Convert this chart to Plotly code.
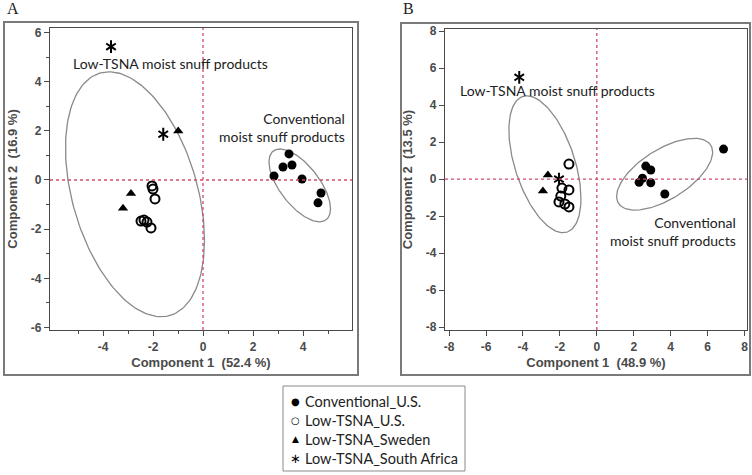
import numpy as np
import plotly.graph_objects as go

# ---------------- data ----------------
categories = ["Conventional_U.S.", "Low-TSNA_U.S.", "Low-TSNA_Sweden", "Low-TSNA_South Africa"]
legend_glyphs = ["●", "○", "▲", "∗"]

# Panel A
A_conv_x = [3.44, 3.20, 3.56, 2.84, 3.96, 4.72, 4.60]
A_conv_y = [1.06, 0.53, 0.61, 0.16, 0.04, -0.53, -0.93]
A_lowus_x = [-2.04, -2.00, -1.92, -2.48, -2.36, -2.24, -2.08]
A_lowus_y = [-0.24, -0.37, -0.77, -1.67, -1.63, -1.71, -1.95]
A_swe_x = [-0.99, -2.88, -3.20]
A_swe_y = [1.99, -0.55, -1.15]
A_sa_x = [-3.68, -1.59]
A_sa_y = [5.42, 1.86]

# Panel B
B_conv_x = [2.65, 2.92, 2.29, 2.47, 2.92, 3.68, 6.86]
B_conv_y = [0.70, 0.49, -0.18, 0.04, -0.20, -0.81, 1.62]
B_lowus_x = [-1.51, -1.89, -1.51, -1.95, -2.05, -1.73, -1.51]
B_lowus_y = [0.81, -0.49, -0.59, -0.92, -1.24, -1.35, -1.51]
B_swe_x = [-2.65, -2.92]
B_swe_y = [0.22, -0.65]
B_sa_x = [-4.20, -2.05]
B_sa_y = [5.50, 0.00]

# ellipses: centre x, centre y, x half-extent, y half-extent, phase (deg)
A_ell_low = [-2.72, -0.58, 2.78, 4.98, 112]
A_ell_conv = [3.87, -0.22, 1.23, 1.48, 130]
B_ell_low = [-2.81, 0.80, 1.95, 3.70, 120]
B_ell_conv = [3.67, 0.26, 2.60, 1.94, 52]

A_xticks = [-4, -2, 0, 2, 4]
A_yticks = [-6, -4, -2, 0, 2, 4, 6]
A_minor = [-5, -3, -1, 1, 3, 5]
B_ticks = [-8, -6, -4, -2, 0, 2, 4, 6, 8]

A_xlabel = "Component 1  (52.4 %)"
A_ylabel = "Component 2  (16.9 %)"
B_xlabel = "Component 1  (48.9 %)"
B_ylabel = "Component 2  (13.5 %)"
group_low = "Low-TSNA moist snuff products"
group_conv = "Conventional<br>moist snuff products"

# ---------------- figure ----------------
fig = go.Figure()
TXT = "#222222"
AX = "#4a4a4a"
H = 475.0
W = 752.0


def ellipse(p, xa, ya):
    cx, cy, rx, ry, d = p
    t = np.linspace(0, 2 * np.pi, 200)
    fig.add_trace(go.Scatter(x=cx + rx * np.cos(t), y=cy + ry * np.cos(t - np.radians(d)),
                             mode="lines", line=dict(color="#8a8a8a", width=1.3),
                             xaxis=xa, yaxis=ya, showlegend=False, hoverinfo="skip"))


ellipse(A_ell_low, "x", "y")
ellipse(A_ell_conv, "x", "y")
ellipse(B_ell_low, "x2", "y2")
ellipse(B_ell_conv, "x2", "y2")

styles = [
    [dict(symbol="circle", size=9, color="black", line=dict(width=0))],
    [dict(symbol="circle-open", size=9, color="black", line=dict(width=2, color="black"))],
    [dict(symbol="triangle-up", size=9, color="black", line=dict(width=0))],
    # six-armed asterisk = y-up + y-down strokes
    [dict(symbol="y-up-open", size=8, color="black", line=dict(width=2, color="black")),
     dict(symbol="y-down-open", size=8, color="black", line=dict(width=2, color="black"))],
]
A_sets = [(A_conv_x, A_conv_y), (A_lowus_x, A_lowus_y), (A_swe_x, A_swe_y), (A_sa_x, A_sa_y)]
B_sets = [(B_conv_x, B_conv_y), (B_lowus_x, B_lowus_y), (B_swe_x, B_swe_y), (B_sa_x, B_sa_y)]

for sets, xa, ya in [(A_sets, "x", "y"), (B_sets, "x2", "y2")]:
    for i, name in enumerate(categories):
        for st in styles[i]:
            fig.add_trace(go.Scatter(x=sets[i][0], y=sets[i][1], mode="markers", name=name,
                                     marker=st, xaxis=xa, yaxis=ya, showlegend=False))


def lbl(v):
    return [str(t) for t in v]


axis_common = dict(showgrid=False, zeroline=False, showline=True, linecolor=AX, linewidth=1.2,
                   mirror=True, ticks="outside", ticklen=5, tickcolor=AX, tickwidth=1.2,
                   automargin=False,
                   tickfont=dict(family="Liberation Sans", size=12, color=AX, weight="bold"),
                   title_font=dict(family="Liberation Sans", size=13, color=AX, weight="bold"))

fig.update_layout(
    width=752, height=475, margin=dict(l=0, r=0, t=0, b=0, autoexpand=False),
    paper_bgcolor="white", plot_bgcolor="white", showlegend=False,
    xaxis=dict(domain=[50 / W, 352 / W], range=[-6.12, 5.96], tickvals=A_xticks, ticktext=lbl(A_xticks),
               minor=dict(tickvals=A_minor, ticklen=3, tickcolor=AX, ticks="outside"),
               title=dict(text=A_xlabel, standoff=5), anchor="y", **axis_common),
    yaxis=dict(domain=[(H - 330) / H, (H - 28) / H], range=[-6.1, 6.18], tickvals=A_yticks,
               ticktext=lbl(A_yticks),
               minor=dict(tickvals=A_minor, ticklen=3, tickcolor=AX, ticks="outside"),
               title=dict(text=A_ylabel, standoff=10), anchor="x", **axis_common),
    xaxis2=dict(domain=[445 / W, 747 / W], range=[-8.22, 8.13], tickvals=B_ticks, ticktext=lbl(B_ticks),
                title=dict(text=B_xlabel, standoff=5), anchor="y2", **axis_common),
    yaxis2=dict(domain=[(H - 330) / H, (H - 29) / H], range=[-8.16, 8.11], tickvals=B_ticks,
                ticktext=lbl(B_ticks),
                title=dict(text=B_ylabel, standoff=10), anchor="x2", **axis_common),
)

# dotted zero reference lines
for xr, yr in [("x", "y"), ("x2", "y2")]:
    fig.add_shape(type="line", xref=xr, yref=yr + " domain", x0=0, x1=0, y0=0, y1=1,
                  line=dict(color="#d24a6a", width=1.3, dash="dot"))
    fig.add_shape(type="line", xref=xr + " domain", yref=yr, x0=0, x1=1, y0=0, y1=0,
                  line=dict(color="#d24a6a", width=1.3, dash="dot"))

# panel frames
fig.add_shape(type="rect", xref="paper", yref="paper", x0=4 / W, x1=358 / W,
              y0=(H - 375) / H, y1=(H - 22) / H, line=dict(color="#7a7a7a", width=2))
fig.add_shape(type="rect", xref="paper", yref="paper", x0=401 / W, x1=750 / W,
              y0=(H - 375) / H, y1=(H - 23) / H, line=dict(color="#7a7a7a", width=2))

# panel letters
fig.add_annotation(text="A", xref="paper", yref="paper", x=5 / W, y=(H - 9) / H,
                   xanchor="left", yanchor="middle", showarrow=False,
                   font=dict(family="Liberation Serif", size=16, color=TXT))
fig.add_annotation(text="B", xref="paper", yref="paper", x=401 / W, y=(H - 9) / H,
                   xanchor="left", yanchor="middle", showarrow=False,
                   font=dict(family="Liberation Serif", size=16, color=TXT))

lab = dict(family="Lato", size=14, color=TXT)
fig.add_annotation(text=group_low, x=-1.32, y=4.72, xref="x", yref="y", showarrow=False, font=lab)
fig.add_annotation(text=group_conv, x=5.76, y=2.15, xref="x", yref="y", showarrow=False, font=lab,
                   xanchor="right", align="right")
fig.add_annotation(text=group_low, x=-2.13, y=4.8, xref="x2", yref="y2", showarrow=False, font=lab)
fig.add_annotation(text=group_conv, x=7.62, y=-2.84, xref="x2", yref="y2", showarrow=False, font=lab,
                   xanchor="right", align="right")

# legend box (text legend with symbol glyphs, as in the reference)
fig.add_shape(type="rect", xref="paper", yref="paper", x0=283 / W, x1=465 / W,
              y0=(H - 471) / H, y1=(H - 386) / H, line=dict(color="#8a8a8a", width=1),
              fillcolor="white")
row_y = [401, 420, 439, 458]
glyph_size = [10, 10, 9, 13]
for i, name in enumerate(categories):
    fig.add_annotation(text=legend_glyphs[i], xref="paper", yref="paper", x=295 / W, y=(H - row_y[i]) / H,
                       xanchor="center", yanchor="middle", showarrow=False,
                       font=dict(family="DejaVu Sans", size=glyph_size[i], color="black"))
    fig.add_annotation(text=name, xref="paper", yref="paper", x=303 / W, y=(H - row_y[i]) / H,
                       xanchor="left", yanchor="middle", showarrow=False,
                       font=dict(family="Lato", size=14.5, color=TXT))

# remove the browser's default 8px page margin so the 752x475 figure fills the window
fig.write_html("out.html", config={"displayModeBar": False},
               post_script="document.body.style.margin='0';")
